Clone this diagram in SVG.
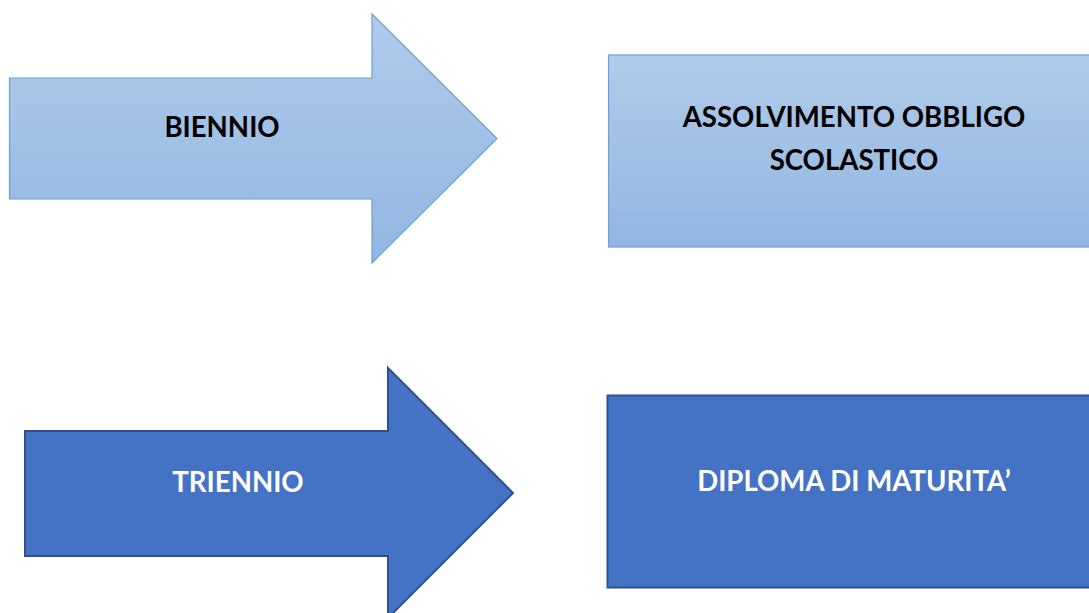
<svg xmlns="http://www.w3.org/2000/svg" width="1089" height="613" viewBox="0 0 1089 613">
  <defs>
    <linearGradient id="light" x1="0" y1="0" x2="0" y2="1">
      <stop offset="0" stop-color="#b0cbea"/>
      <stop offset="1" stop-color="#92b6e2"/>
    </linearGradient>
    <style>
      .light { fill: url(#light); stroke: #6a9fd9; stroke-width: 1.2; }
      .dark { fill: #4472c4; stroke: #2f528f; stroke-width: 2; }
      .lbl { font-family: Lato, "Open Sans", "Liberation Sans", sans-serif; font-weight: bold; font-size: 27.6px; text-anchor: middle; }
      .blk { fill: #000000; }
      .wht { fill: #ffffff; }
    </style>
  </defs>
  <rect width="1089" height="613" fill="#ffffff"/>
  <g id="biennio">
    <polygon class="light" points="9.5,78 372,78 372,14 497,138.5 372,263 372,199 9.5,199"/>
    <text class="lbl blk" x="222" y="137">BIENNIO</text>
  </g>
  <g id="assolvimento">
    <rect class="light" x="608.5" y="55" width="490" height="192"/>
    <text class="lbl blk" x="854" y="127">ASSOLVIMENTO OBBLIGO</text>
    <text class="lbl blk" x="854" y="170">SCOLASTICO</text>
  </g>
  <g id="triennio">
    <polygon class="dark" points="25,431 388,431 388,368 513,493 388,618 388,556 25,556"/>
    <text class="lbl wht" x="238" y="492">TRIENNIO</text>
  </g>
  <g id="diploma">
    <rect class="dark" x="607.5" y="395.5" width="490" height="192"/>
    <text class="lbl wht" x="854" y="491">DIPLOMA DI MATURITA’</text>
  </g>
  <g id="connectors"></g>
</svg>
